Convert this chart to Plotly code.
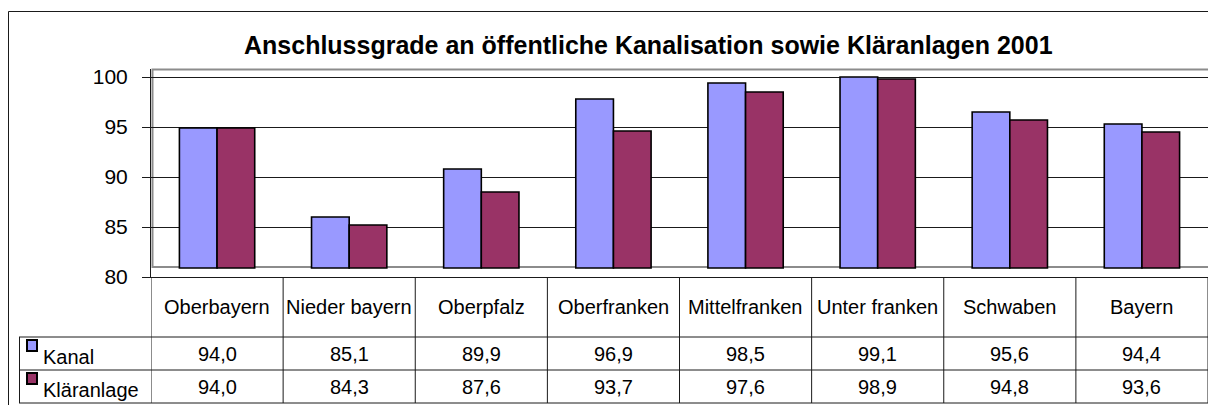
import plotly.graph_objects as go

categories = ["Oberbayern", "Nieder bayern", "Oberpfalz", "Oberfranken",
              "Mittelfranken", "Unter franken", "Schwaben", "Bayern"]
kanal = [94.0, 85.1, 89.9, 96.9, 98.5, 99.1, 95.6, 94.4]
klaeranlage = [94.0, 84.3, 87.6, 93.7, 97.6, 98.9, 94.8, 93.6]
series_names = ["Kanal", "Kläranlage"]
series_colors = ["#9999FF", "#993366"]
y_ticks = [80, 85, 90, 95, 100]
title_text = "Anschlussgrade an öffentliche Kanalisation sowie Kläranlagen 2001"

W, H = 1208, 405
L, T, B = 151, 69, 128
PW = W - L
PH = H - T - B
FONT = "Arial, 'Liberation Sans', sans-serif"
LINE = "#1a1a1a"


def px_x(px):
    return (px - L) / PW


def px_y(py):
    return (H - B - py) / PH


def fmt(v):
    return f"{v:.1f}".replace(".", ",")


fig = go.Figure()
# bars on the (3D-offset) bar axis
for name, vals, col in zip(series_names, [kanal, klaeranlage], series_colors):
    fig.add_trace(go.Bar(
        x=categories, y=[v - 80 for v in vals], base=80, name=name,
        marker=dict(color=col, line=dict(color="black", width=1.6)),
        yaxis="y2", showlegend=False, hoverinfo="skip",
    ))
# invisible anchor so the value axis (ticks + gridlines) is rendered
fig.add_trace(go.Scatter(x=[categories[0]], y=[y_ticks[0]], mode="markers",
                         marker=dict(opacity=0), showlegend=False,
                         hoverinfo="skip", yaxis="y"))

shapes = []
# plot-area gray frame (wall)
shapes.append(dict(type="rect", xref="paper", yref="paper",
                   x0=px_x(152.5), x1=px_x(1215), y0=px_y(267), y1=px_y(69.5),
                   line=dict(color="#8c8c8c", width=2), layer="below"))
# outer chart frame
shapes.append(dict(type="line", xref="paper", yref="paper",
                   x0=px_x(8.5), x1=px_x(8.5), y0=px_y(11.5), y1=px_y(410),
                   line=dict(color=LINE, width=1)))
shapes.append(dict(type="line", xref="paper", yref="paper",
                   x0=px_x(8.5), x1=px_x(1215), y0=px_y(11.5), y1=px_y(11.5),
                   line=dict(color=LINE, width=1)))
# table horizontal lines
for py in [337, 370, 403]:
    shapes.append(dict(type="line", xref="paper", yref="paper",
                       x0=px_x(19), x1=px_x(1215), y0=px_y(py), y1=px_y(py),
                       line=dict(color=LINE, width=1)))
# legend column left border
shapes.append(dict(type="line", xref="paper", yref="paper",
                   x0=px_x(19.5), x1=px_x(19.5), y0=px_y(337), y1=px_y(403),
                   line=dict(color=LINE, width=1)))
# table vertical lines
for i in range(len(categories) + 1):
    shapes.append(dict(type="line", xref="x", yref="paper",
                       x0=i - 0.5, x1=i - 0.5, y0=px_y(277), y1=px_y(403),
                       line=dict(color=LINE, width=1)))
# legend keys
for py, col in [(340, series_colors[0]), (373, series_colors[1])]:
    shapes.append(dict(type="rect", xref="paper", yref="paper",
                       x0=px_x(27), x1=px_x(37), y0=px_y(py + 11), y1=px_y(py),
                       fillcolor=col, line=dict(color="black", width=2)))

annotations = []
for i, c in enumerate(categories):
    annotations.append(dict(x=i, y=px_y(307), xref="x", yref="paper", text=c,
                            showarrow=False, xanchor="center", yanchor="middle",
                            font=dict(size=20, color="black", family=FONT)))
    for vals, py in [(kanal, 353.5), (klaeranlage, 386.5)]:
        annotations.append(dict(x=i, y=px_y(py), xref="x", yref="paper",
                                text=fmt(vals[i]), showarrow=False,
                                xanchor="center", yanchor="middle",
                                font=dict(size=20, color="black", family=FONT)))
for name, py in [(series_names[0], 357), (series_names[1], 390)]:
    annotations.append(dict(x=px_x(41), y=px_y(py), xref="paper", yref="paper",
                            text=name, showarrow=False, xanchor="left",
                            yanchor="middle",
                            font=dict(size=20, color="black", family=FONT)))
annotations.append(dict(x=px_x(648), y=px_y(45), xref="paper", yref="paper",
                        text=f"<b>{title_text}</b>", showarrow=False,
                        xanchor="center", yanchor="middle",
                        font=dict(size=25, color="black", family=FONT)))

fig.update_layout(
    width=W, height=H,
    margin=dict(l=L, r=0, t=T, b=B, pad=0),
    paper_bgcolor="white", plot_bgcolor="white",
    font=dict(family=FONT, color="black"),
    bargap=0.43, bargroupgap=0, barmode="group",
    xaxis=dict(type="category", range=[-0.5, len(categories) - 0.5],
               showticklabels=False, ticks="", showgrid=False,
               showline=True, linecolor=LINE, linewidth=1, zeroline=False,
               fixedrange=True),
    yaxis=dict(range=[80, 100.8], tickvals=y_ticks,
               ticktext=[str(v) for v in y_ticks],
               ticks="outside", ticklen=8, tickcolor=LINE, tickwidth=1,
               showgrid=True, gridcolor=LINE, gridwidth=1,
               showline=True, linecolor=LINE, linewidth=1, zeroline=False,
               tickfont=dict(size=21, color="black", family=FONT),
               ticklabelstandoff=10),
    yaxis2=dict(overlaying="y", range=[79.1, 99.9], visible=False,
                showgrid=False, zeroline=False),
    shapes=shapes, annotations=annotations,
)

fig.write_html("out.html", config={"displayModeBar": False},
               post_script="document.body.style.margin='0px';")
